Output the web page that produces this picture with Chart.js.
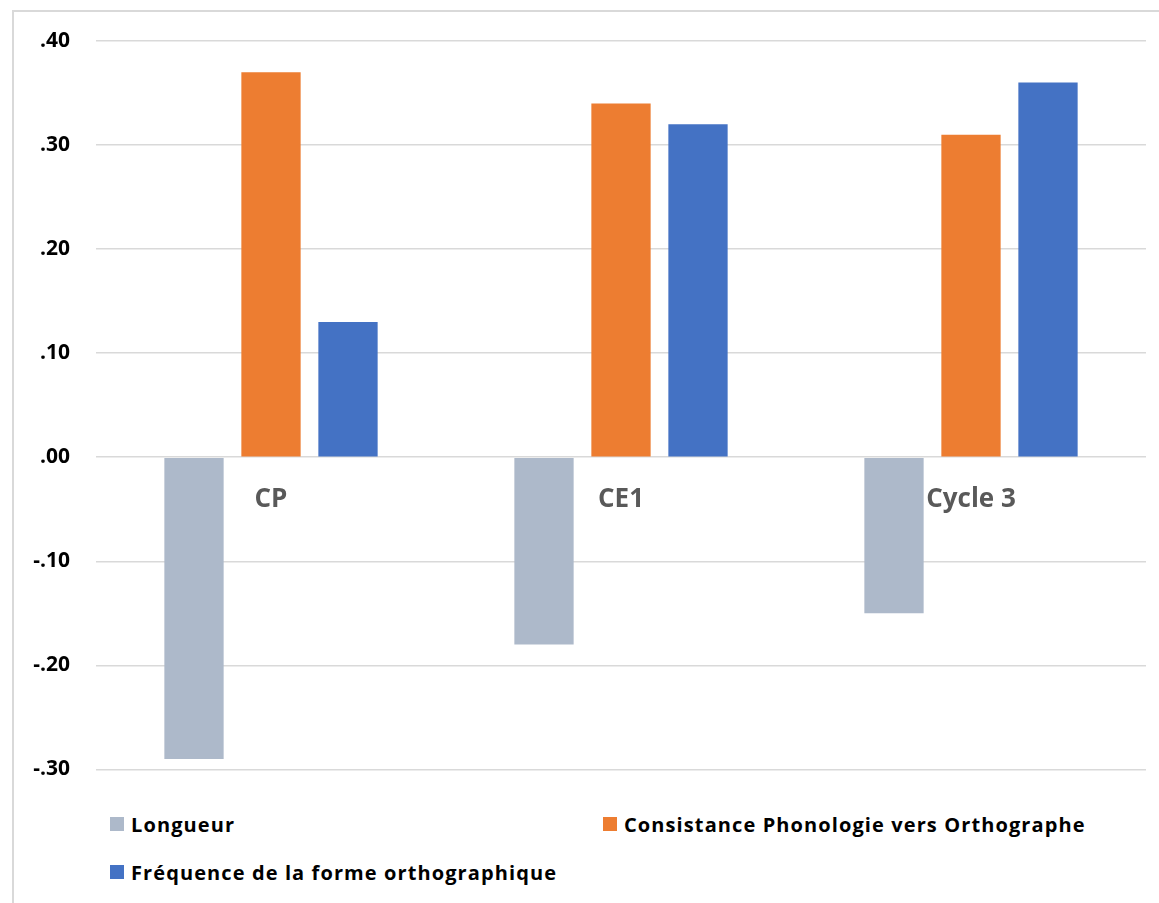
<!DOCTYPE html>
<html lang="fr">
<head>
<meta charset="utf-8">
<script src="https://cdn.jsdelivr.net/npm/chart.js@4/dist/chart.umd.min.js"></script>
<style>
  html, body { margin: 0; padding: 0; background: #fff; }
  body { width: 1159px; height: 903px; overflow: hidden; position: relative; font-family: "Open Sans", sans-serif; }
  .frame { position: absolute; left: 12px; top: 10px; width: 1160px; height: 900px; border: 2px solid #d9d9d9; box-sizing: border-box; }
  #chart { position: absolute; left: 0; top: 0; }
  .legend { position: absolute; left: 110px; top: 810px; display: grid; grid-template-columns: 493px auto; row-gap: 20px; }
  .legend-item { display: flex; align-items: center; gap: 7px; font-weight: 700; font-size: 20px; letter-spacing: 1.1px; color: #000; height: 28px; }
  .legend-item span.swatch { width: 14px; height: 14px; display: inline-block; }
</style>
</head>
<body>
<div class="frame"></div>
<canvas id="chart" width="1159" height="808"></canvas>
<div class="legend" id="legend"></div>
<script>
const categories = ["CP", "CE1", "Cycle 3"];
const longueur = [-0.29, -0.18, -0.15];
const consistance = [0.37, 0.34, 0.31];
const frequence = [0.13, 0.32, 0.36];
const yTicks = [0.4, 0.3, 0.2, 0.1, 0, -0.1, -0.2, -0.3];

const series = [
  { label: "Longueur", data: longueur, color: "#ADB9CA" },
  { label: "Consistance Phonologie vers Orthographe", data: consistance, color: "#ED7D31" },
  { label: "Fréquence de la forme orthographique", data: frequence, color: "#4472C4" }
];

function tickLabel(value) {
  const s = Number(value).toFixed(2);
  return s.replace("0.", ".");
}

const chart = new Chart(document.getElementById("chart"), {
  type: "bar",
  data: {
    labels: categories,
    datasets: series.map(s => ({
      label: s.label,
      data: s.data,
      backgroundColor: s.color,
      borderWidth: 0,
      categoryPercentage: 0.66,
      barPercentage: 0.77
    }))
  },
  options: {
    responsive: false,
    animation: false,
    layout: { padding: { left: 0, top: 41, right: 13, bottom: 10 } },
    plugins: {
      legend: { display: false },
      tooltip: { enabled: false }
    },
    scales: {
      x: {
        position: { y: 0 },
        grid: { display: false },
        border: { display: false },
        ticks: {
          color: "#595959",
          font: { family: "Open Sans", size: 26, weight: "bold" },
          padding: 19
        }
      },
      y: {
        min: -0.3,
        max: 0.4,
        afterFit: scale => { scale.width = 96; },
        afterBuildTicks: scale => { scale.ticks = yTicks.map(value => ({ value })); },
        grid: { color: "#d9d9d9", lineWidth: 1.5, drawTicks: false },
        border: { display: false },
        ticks: {
          color: "#000",
          font: { family: "Open Sans", size: 21, weight: "bold" },
          padding: 26,
          callback: value => tickLabel(value)
        }
      }
    }
  }
});

document.getElementById("legend").innerHTML = series.map(s => `
  <div class="legend-item"><span class="swatch" style="background:${s.color}"></span>${s.label}</div>
`).join("");
</script>
</body>
</html>
